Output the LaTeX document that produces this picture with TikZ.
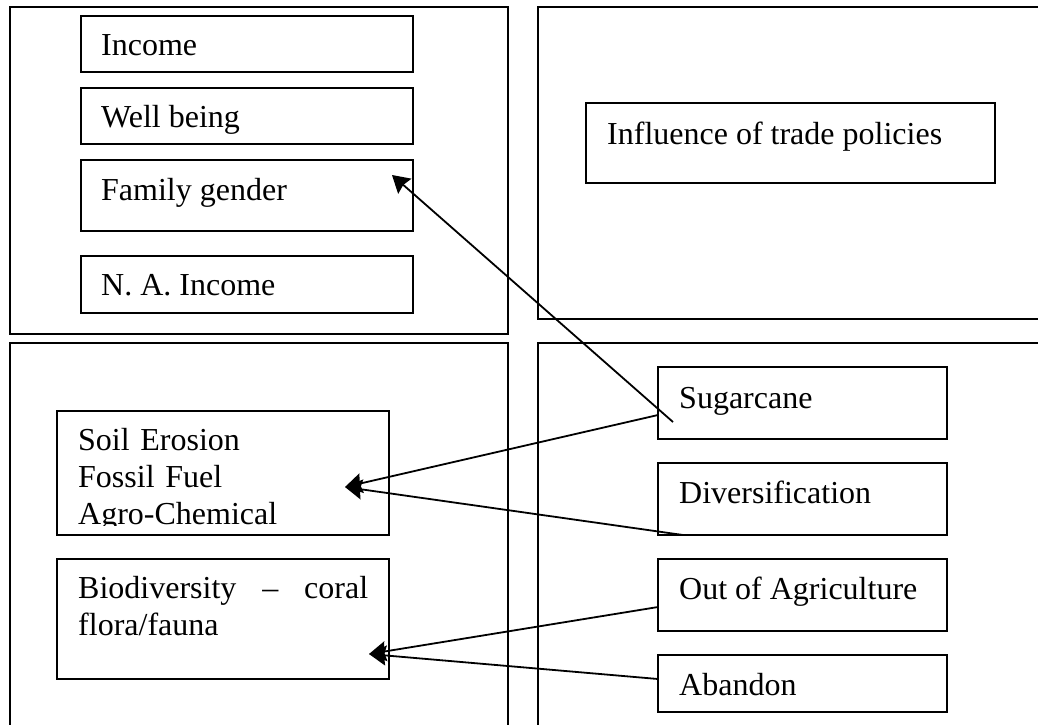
\documentclass[tikz,border=0pt]{standalone}
\usepackage{fontspec}
\setmainfont{Liberation Serif}
\usetikzlibrary{arrows.meta,calc}
\begin{document}
\begin{tikzpicture}[x=1pt,y=-1pt,
  box/.style={draw, line width=2pt, inner sep=0pt, outer sep=0pt, anchor=north west},
  lbl/.style={inner sep=0pt, anchor=base west, font=\fontsize{32}{37}\selectfont},
  conn/.style={line width=1.8pt, -{Stealth[length=17pt,width=20pt,inset=2pt]}}]
\useasboundingbox (0,0) rectangle (1038,724);
% quadrants
\node[box, line width=2.2pt, minimum width=498pt, minimum height=327pt] (qtl) at (10,7) {};
\node[box, line width=2.2pt, minimum width=510pt, minimum height=312pt] (qtr) at (538,7) {};
\node[box, line width=2.2pt, minimum width=498pt, minimum height=390pt] (qbl) at (10,343) {};
\node[box, line width=2.2pt, minimum width=510pt, minimum height=390pt] (qbr) at (538,343) {};
% top-left boxes
\node[box, minimum width=332pt, minimum height=56pt] (income) at (81,16) {};
\node[lbl] (tincome) at (101,55) {Income};
\node[box, minimum width=332pt, minimum height=56pt] (well) at (81,88) {};
\node[lbl] (twell) at (101,127) {Well being};
\node[box, minimum width=332pt, minimum height=71pt] (family) at (81,160) {};
\node[lbl] (tfamily) at (101,200) {Family gender};
\node[box, minimum width=332pt, minimum height=57pt] (na) at (81,256) {};
\node[lbl] (tna) at (101,295) {N. A. Income};
% top-right
\node[box, minimum width=409pt, minimum height=80pt] (trade) at (586,103) {};
\node[lbl] (ttrade) at (607,144) {Influence of trade policies};
% bottom-left
\node[box, minimum width=332pt, minimum height=124pt] (soil) at (57,411) {};
\begin{scope}
\clip (57,411) rectangle (389,525);
\node[lbl, text width=290pt, align=left] (tsoil) at (78,450) {Soil Erosion\\Fossil Fuel\\Agro-Chemical};
\end{scope}
\node[box, minimum width=332pt, minimum height=120pt] (bio) at (57,559) {};
\node[lbl, text width=290pt, align=left] (tbio) at (78,598) {Biodiversity\hfill--\hfill coral\\flora/fauna};
% bottom-right
\node[box, minimum width=289pt, minimum height=72pt] (sugar) at (658,367) {};
\node[lbl] (tsugar) at (679,408) {Sugarcane};
\node[box, minimum width=289pt, minimum height=72pt] (divers) at (658,463) {};
\node[lbl] (tdivers) at (679,503) {Diversification};
\node[box, minimum width=289pt, minimum height=72pt] (outag) at (658,559) {};
\node[lbl] (toutag) at (679,599) {Out of Agriculture};
\node[box, minimum width=289pt, minimum height=57pt] (abandon) at (658,655) {};
\node[lbl] (tabandon) at (679,695) {Abandon};
% connector end points
\coordinate (sA) at (673,422);
\coordinate (sB) at (658,415);
\coordinate (dA) at (683,535);
\coordinate (oA) at (658,607);
\coordinate (aA) at (658,679);
\coordinate (famtip) at (392,175);
\coordinate (soiltip) at (345,487);
\coordinate (biotip) at (369,654);
% connectors
\draw[conn] (sA) -- (famtip);
\draw[conn] (sB) -- (soiltip);
\draw[conn] (dA) -- (soiltip);
\draw[conn] (oA) -- (biotip);
\draw[conn] (aA) -- (biotip);
\end{tikzpicture}
\end{document}
